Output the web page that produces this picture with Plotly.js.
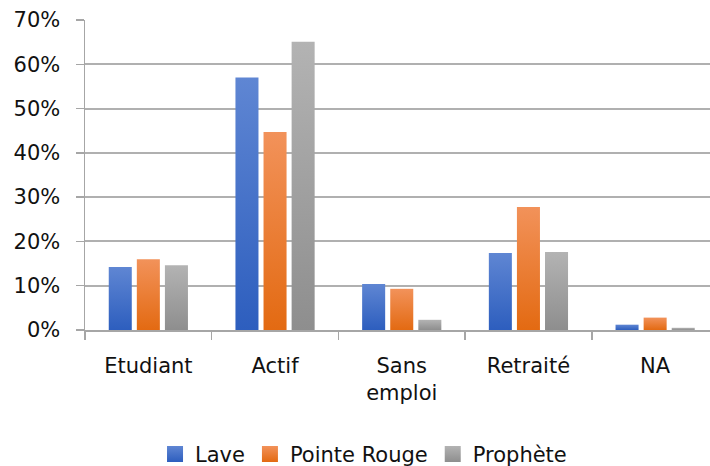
<!DOCTYPE html>
<html>
<head>
<meta charset="utf-8">
<script src="https://cdn.plot.ly/plotly-3.0.1.min.js"></script>
<style>html,body{margin:0;padding:0;background:#fff}#chart{width:710px;height:466px}</style>
</head>
<body>
<div id="chart"></div>
<script>
const categories = ["Etudiant", "Actif", "Sans<br>emploi", "Retraité", "NA"];
const seriesNames = ["Lave", "Pointe Rouge", "Prophète"];
const lave = [0.142, 0.570, 0.104, 0.174, 0.012];
const pointeRouge = [0.160, 0.447, 0.093, 0.278, 0.028];
const prophete = [0.146, 0.651, 0.023, 0.176, 0.005];
const yTickVals = [0, 0.1, 0.2, 0.3, 0.4, 0.5, 0.6, 0.7];
const yTickText = ["0%", "10%", "20%", "30%", "40%", "50%", "60%", "70%"];

const colors = ["#4472c4", "#ed7d31", "#a5a5a5"];
const gradients = [["#5f86d3", "#2d5ebe"], ["#f2925a", "#e36a12"], ["#b3b3b3", "#8e8e8e"]];
const values = [lave, pointeRouge, prophete];

const traces = values.map((v, i) => ({
  type: "bar",
  name: seriesNames[i],
  x: categories,
  y: v,
  marker: {color: colors[i], line: {width: 0}},
  hoverinfo: "skip"
}));

const font = {family: "DejaVu Sans", size: 21, color: "#111111"};

const layout = {
  width: 710,
  height: 466,
  margin: {l: 85, r: 0, t: 20, b: 135.5, autoexpand: false},
  paper_bgcolor: "#ffffff",
  plot_bgcolor: "#ffffff",
  font: font,
  barmode: "group",
  bargap: 0.335,
  bargroupgap: 0.18,
  showlegend: true,
  legend: {
    orientation: "h",
    xref: "container", yref: "container",
    x: 0.512, xanchor: "center",
    y: 0.025, yanchor: "middle",
    font: font,
    itemwidth: 30,
    traceorder: "normal"
  },
  xaxis: {
    type: "category",
    range: [-0.5, 4.433],
    automargin: false,
    showgrid: false,
    showline: true,
    linecolor: "#a6a6a6",
    linewidth: 1.5,
    ticks: "outside",
    tickson: "boundaries",
    ticklen: 8,
    tickcolor: "#a6a6a6",
    tickwidth: 1.5,
    ticklabelstandoff: 16,
    tickfont: font,
    zeroline: false,
    fixedrange: true
  },
  yaxis: {
    range: [0, 0.70],
    automargin: false,
    tickvals: yTickVals,
    ticktext: yTickText,
    showgrid: true,
    gridcolor: "#b0b0b0",
    gridwidth: 2,
    showline: true,
    linecolor: "#a6a6a6",
    linewidth: 1.5,
    ticks: "outside",
    ticklen: 8,
    tickcolor: "#a6a6a6",
    tickwidth: 1.5,
    ticklabelstandoff: 11,
    tickfont: font,
    zeroline: false,
    fixedrange: true
  }
};

Plotly.newPlot("chart", traces, layout, {staticPlot: true, displayModeBar: false}).then(gd => {
  const svg = gd.querySelector("svg.main-svg");
  const ns = "http://www.w3.org/2000/svg";
  let defs = svg.querySelector("defs");
  if (!defs) { defs = document.createElementNS(ns, "defs"); svg.insertBefore(defs, svg.firstChild); }
  gradients.forEach((g, i) => {
    const lg = document.createElementNS(ns, "linearGradient");
    lg.setAttribute("id", "barGrad" + i);
    lg.setAttribute("x1", "0"); lg.setAttribute("y1", "0");
    lg.setAttribute("x2", "0"); lg.setAttribute("y2", "1");
    [[0, g[0]], [1, g[1]]].forEach(([o, c]) => {
      const s = document.createElementNS(ns, "stop");
      s.setAttribute("offset", o);
      s.setAttribute("stop-color", c);
      lg.appendChild(s);
    });
    defs.appendChild(lg);
  });
  gd.querySelectorAll(".barlayer .trace.bars").forEach((t, i) => {
    t.querySelectorAll(".point path").forEach(p => { p.style.fill = "url(#barGrad" + i + ")"; });
  });
  gd.querySelectorAll(".legend .traces").forEach((t, i) => {
    t.querySelectorAll(".legendpoints path").forEach(p => {
      p.setAttribute("d", "M8,8H-8V-8H8Z");
      p.style.fill = "url(#barGrad" + i + ")";
    });
  });
});
</script>
</body>
</html>
